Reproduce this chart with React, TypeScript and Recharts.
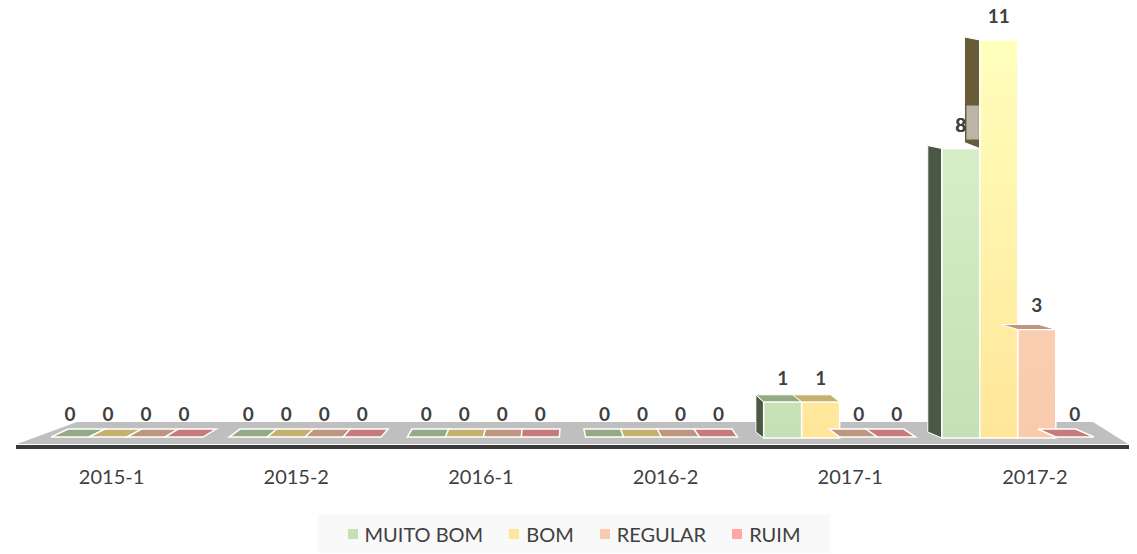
import React from 'react';
import { BarChart, Bar, XAxis, YAxis, LabelList, Legend, ReferenceArea } from 'recharts';

const categories = ['2015-1', '2015-2', '2016-1', '2016-2', '2017-1', '2017-2'];
const muitoBom = [0, 0, 0, 0, 1, 8];
const bom = [0, 0, 0, 0, 1, 11];
const regular = [0, 0, 0, 0, 0, 3];
const ruim = [0, 0, 0, 0, 0, 0];

const series = [
  { key: 'MUITO BOM', front: ['#dcf4cd', '#c5e0b4'], top: '#93aa84', side: '#4c5847', legend: '#c5e0b4' },
  { key: 'BOM', front: ['#ffffbc', '#ffe699'], top: '#c6b06e', side: '#675b38', legend: '#ffe699' },
  { key: 'REGULAR', front: ['#fbd6bd', '#f8cbad'], top: '#be9680', side: '#6e5a4c', legend: '#f8cbad' },
  { key: 'RUIM', front: ['#ffb5b5', '#ffa7a7'], top: '#c67a7b', side: '#6e4546', legend: '#ffa7a7' },
];

const data = categories.map((name, i) => ({
  name,
  'MUITO BOM': muitoBom[i],
  BOM: bom[i],
  REGULAR: regular[i],
  RUIM: ruim[i],
}));

const TEXT = '#404040';
const FONT = 'Lato, "Open Sans", sans-serif';
const LABEL_OFFSET = 17;

// fake perspective: back faces lean toward this x
const VP = 540;
const K = 0.035;

const pts = (a: number[][]) => a.map(p => p.join(',')).join(' ');

const make3dBar = (si: number) => (props: any) => {
  const { x, y, width: w, height: h, payload, index } = props;
  const s = series[si];
  const v = payload[s.key];
  const y0 = y + h;
  const dx = K * (VP - x);
  if (!v) {
    return (
      <polygon
        points={pts([[x, y0 - 1], [x + w, y0 - 1], [x + w + dx, y0 - 9], [x + dx, y0 - 9]])}
        fill={s.top}
        stroke="#fff"
        strokeWidth={1.5}
      />
    );
  }
  const ppu = h / v;
  const dt = Math.max(0, (y - 150) * 0.028);
  const nb = dx < 0 ? series[si - 1] : series[si + 1];
  const nv = nb ? payload[nb.key] : 0;
  const nTop = y0 - nv * ppu;
  const sideBottom = Math.min(y0, nTop);
  const xs = dx < 0 ? x : x + w;
  const gid = `g-${si}-${index}`;
  // neighbour's value label sits over this side face: keep it readable
  const coversLabel = nb && nv > 0 && sideBottom < y0 && sideBottom > y + 40;
  const nbCenter = dx < 0 ? x - w / 2 : x + w + w / 2;
  return (
    <g>
      <defs>
        <linearGradient id={gid} x1="0" y1="40" x2="0" y2="438" gradientUnits="userSpaceOnUse">
          <stop offset="0%" stopColor={s.front[0]} />
          <stop offset="100%" stopColor={s.front[1]} />
        </linearGradient>
      </defs>
      {sideBottom > y + 1 && (
        <polygon
          points={pts([[xs, y], [xs, sideBottom], [xs + dx, sideBottom - 6], [xs + dx, y - Math.max(dt, 3)]])}
          fill={s.side}
          stroke="#fff"
          strokeWidth={1}
        />
      )}
      {coversLabel && (
        <g>
          <rect
            x={Math.min(xs, xs + dx) + 2}
            y={nTop - LABEL_OFFSET - 26}
            width={Math.abs(dx) - 3}
            height={34}
            fill="#fff"
            fillOpacity={0.55}
          />
          <text
            x={nbCenter}
            y={nTop - LABEL_OFFSET}
            textAnchor="middle"
            fill={TEXT}
            fontSize={19}
            fontWeight="bold"
            fontFamily={FONT}
          >
            {nv}
          </text>
        </g>
      )}
      <rect x={x} y={y} width={w} height={h} fill={`url(#${gid})`} stroke="#fff" strokeWidth={1.5} />
      {dt > 1 && (
        <polygon
          points={pts([[x, y], [x + w, y], [x + w + dx, y - dt], [x + dx, y - dt]])}
          fill={s.top}
          stroke="#fff"
          strokeWidth={1}
        />
      )}
    </g>
  );
};

const Floor = (props: any) => {
  const { x, y, width, height } = props;
  const y0 = y + height - 8;
  return (
    <g>
      <polygon
        points={pts([[x - 21, y0 + 6], [x + width + 21, y0 + 6], [x + width - 14, y0 - 16], [x + 39, y0 - 16]])}
        fill="#bfbfbf"
      />
      <line x1={x - 22} x2={x + width + 22} y1={y0 + 9} y2={y0 + 9} stroke="#3a3a3a" strokeWidth={4} />
    </g>
  );
};

const CategoryTick = (props: any) => {
  const { x, y, payload, index } = props;
  return (
    <text x={x - 15.5 + 6.5 * index} y={y} dy={30} textAnchor="middle" fill={TEXT} fontSize={20} fontFamily={FONT}>
      {payload.value}
    </text>
  );
};

const LegendBox = () => (
  <div
    style={{
      height: 39,
      background: '#f9f9f9',
      display: 'flex',
      alignItems: 'center',
      justifyContent: 'center',
      gap: 26,
      fontFamily: FONT,
      fontSize: 20,
      color: TEXT,
    }}
  >
    {series.map(s => (
      <div key={s.key} style={{ display: 'flex', alignItems: 'center', gap: 7 }}>
        <span style={{ width: 10, height: 10, background: s.legend, display: 'inline-block' }} />
        {s.key}
      </div>
    ))}
  </div>
);

export default function App() {
  return (
    <div style={{ position: 'absolute', left: 0, top: 0, background: '#fff' }}>
      <BarChart
        width={1137}
        height={554}
        data={data}
        margin={{ top: 40, right: 30, left: 38, bottom: 29 }}
        barSize={38}
        barGap={0}
      >
        <XAxis dataKey="name" axisLine={false} tickLine={false} height={40} tick={<CategoryTick />} interval={0} />
        <YAxis hide domain={[-0.22, 11]} />
        <ReferenceArea y1={-0.22} y2={0} shape={<Floor />} ifOverflow="visible" />
        <Legend
          verticalAlign="bottom"
          content={<LegendBox />}
          wrapperStyle={{ left: 318, width: 512, bottom: 1 }}
        />
        {series.map((s, si) => (
          <Bar key={s.key} dataKey={s.key} fill={s.legend} shape={make3dBar(si)} isAnimationActive={false}>
            <LabelList
              dataKey={s.key}
              position="top"
              offset={LABEL_OFFSET}
              fill={TEXT}
              fontSize={19}
              fontWeight="bold"
              fontFamily={FONT}
            />
          </Bar>
        ))}
      </BarChart>
    </div>
  );
}
